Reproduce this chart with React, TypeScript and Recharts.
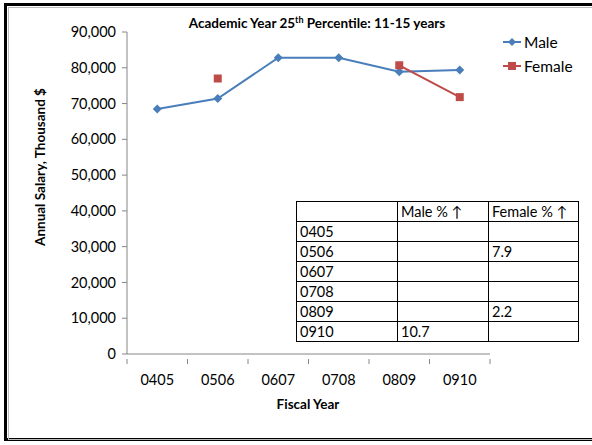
import { LineChart, Line, XAxis, YAxis } from 'recharts';

const years = ['0405', '0506', '0607', '0708', '0809', '0910'];
const maleSalary = [68500, 71400, 82800, 82800, 78900, 79400];
const femaleSalary: (number | null)[] = [null, 77000, null, null, 80700, 71800];
const yTicks = [0, 10000, 20000, 30000, 40000, 50000, 60000, 70000, 80000, 90000];

const tableHeader = ['', 'Male % \u2191', 'Female % \u2191'];
const maleChange = ['', '', '', '', '', '10.7'];
const femaleChange = ['', '7.9', '', '', '2.2', ''];

const MALE = '#4A7EBB';
const FEMALE = '#BE4B48';
const AXIS = '#868686';
const FONT = 'Lato, "Liberation Sans", sans-serif';

const data = years.map((y, i) => ({ year: y, Male: maleSalary[i], Female: femaleSalary[i] }));

const PLOT_W = 363;
const STEP = PLOT_W / years.length;

const Diamond = (props: any) => {
  const { cx, cy } = props;
  if (cx == null || cy == null) return null;
  return <path d={`M${cx},${cy - 4.5}L${cx + 4.5},${cy}L${cx},${cy + 4.5}L${cx - 4.5},${cy}Z`} fill={MALE} />;
};

const Square = (props: any) => {
  const { cx, cy } = props;
  if (cx == null || cy == null) return null;
  return <rect x={cx - 4} y={cy - 4} width={8} height={8} fill={FEMALE} />;
};

const XTick = (props: any) => {
  const { x, y, payload, index } = props;
  const last = index === years.length - 1;
  return (
    <g>
      <line x1={x - STEP / 2} y1={y - 3} x2={x - STEP / 2} y2={y + 2} stroke={AXIS} />
      {last && <line x1={x + STEP / 2} y1={y - 3} x2={x + STEP / 2} y2={y + 2} stroke={AXIS} />}
      <text x={x} y={y + 23} textAnchor="middle" fontSize={14.5} fill="#000" fontFamily={FONT}>
        {payload.value}
      </text>
    </g>
  );
};

const cell = { border: '1px solid #000', padding: '0 3px', lineHeight: '18px' };

export default function App() {
  return (
    <div style={{ position: 'relative', width: 592, height: 445, background: '#fff', fontFamily: FONT, overflow: 'hidden' }}>
      <style>{'body{margin:0}'}</style>
      {/* frame */}
      <div style={{ position: 'absolute', left: 4, top: 3, width: 600, height: 438, borderLeft: '3px solid #000', borderTop: '3px solid #000', borderBottom: '3px solid #000', boxSizing: 'border-box' }} />
      <div style={{ position: 'absolute', left: 8, top: 7, width: 600, height: 433, borderLeft: '1px solid #bbb', borderTop: '1px solid #bbb', borderBottom: '1px solid #bbb', boxSizing: 'border-box' }} />

      <div style={{ position: 'absolute', left: 0, top: 0 }}>
        <LineChart width={592} height={445} data={data} margin={{ top: 32, right: 102, left: 0, bottom: 61 }}>
          <XAxis
            dataKey="year"
            stroke={AXIS}
            tickLine={false}
            tick={<XTick />}
            height={30}
            interval={0}
            padding={{ left: STEP / 2, right: STEP / 2 }}
          />
          <YAxis
            domain={[0, 90000]}
            ticks={yTicks}
            width={127}
            stroke={AXIS}
            tickSize={5}
            tickMargin={6}
            tick={{ fill: '#000', fontSize: 14.5, fontFamily: FONT }}
            tickFormatter={(v: number) => v.toLocaleString('en-US')}
            interval={0}
          />
          <Line dataKey="Male" stroke={MALE} strokeWidth={2} dot={<Diamond />} activeDot={false} isAnimationActive={false} />
          <Line dataKey="Female" stroke={FEMALE} strokeWidth={2} dot={<Square />} activeDot={false} connectNulls={false} isAnimationActive={false} />
        </LineChart>
      </div>

      {/* title */}
      <div style={{ position: 'absolute', left: 117, width: 400, top: 15, textAlign: 'center', fontWeight: 700, fontSize: 13.5 }}>
        Academic Year 25<sup style={{ fontSize: 9, lineHeight: 0 }}>th</sup> Percentile: 11-15 years
      </div>

      {/* axis titles */}
      <div style={{ position: 'absolute', left: 40, top: 167, width: 0, height: 0 }}>
        <div style={{ position: 'absolute', transform: 'translate(-50%, -50%) rotate(-90deg)', whiteSpace: 'nowrap', fontWeight: 700, fontSize: 13.5 }}>
          Annual Salary, Thousand $
        </div>
      </div>
      <div style={{ position: 'absolute', left: 208, width: 200, top: 396, textAlign: 'center', fontWeight: 700, fontSize: 13.5 }}>
        Fiscal Year
      </div>

      {/* legend */}
      <div style={{ position: 'absolute', left: 503, top: 30, fontSize: 15.5 }}>
        {[{ name: 'Male', color: MALE, shape: 'd' }, { name: 'Female', color: FEMALE, shape: 's' }].map((s) => (
          <div key={s.name} style={{ display: 'flex', alignItems: 'center', height: 24 }}>
            <svg width={20} height={12}>
              <line x1={0} y1={6} x2={18} y2={6} stroke={s.color} strokeWidth={2} />
              {s.shape === 'd' ? (
                <path d="M9,2L13,6L9,10L5,6Z" fill={s.color} />
              ) : (
                <rect x={5} y={2} width={8} height={8} fill={s.color} />
              )}
            </svg>
            <span style={{ marginLeft: 1 }}>{s.name}</span>
          </div>
        ))}
      </div>

      {/* table */}
      <table style={{ position: 'absolute', left: 296, top: 201, borderCollapse: 'collapse', background: '#fff', fontSize: 14.5, tableLayout: 'fixed', width: 282 }}>
        <colgroup>
          <col style={{ width: 101 }} />
          <col style={{ width: 91 }} />
          <col style={{ width: 90 }} />
        </colgroup>
        <tbody>
          <tr style={{ height: 20 }}>
            {tableHeader.map((h, i) => (
              <td key={i} style={cell}>{h}</td>
            ))}
          </tr>
          {years.map((y, i) => (
            <tr key={y} style={{ height: 20 }}>
              <td style={cell}>{y}</td>
              <td style={cell}>{maleChange[i]}</td>
              <td style={cell}>{femaleChange[i]}</td>
            </tr>
          ))}
        </tbody>
      </table>
    </div>
  );
}
